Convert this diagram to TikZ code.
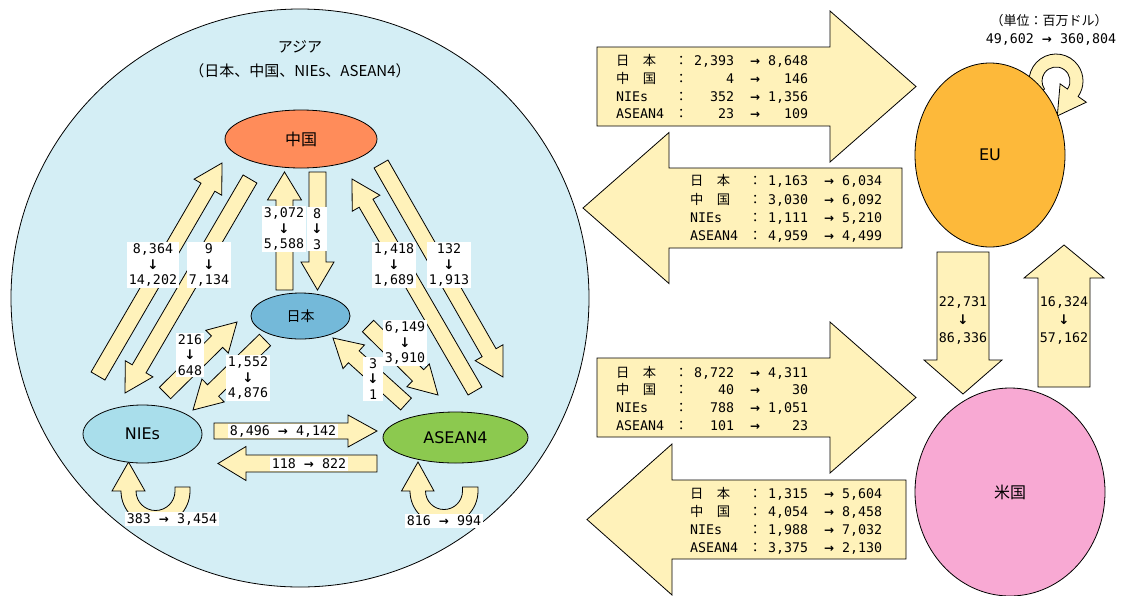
\documentclass[tikz,border=0pt]{standalone}
\usepackage{fontspec}
\usetikzlibrary{calc,shapes.geometric}
\newfontfamily\jpf{Noto Sans CJK JP}
\newfontfamily\monof{DejaVu Sans Mono}
\newfontfamily\sansf{DejaVu Sans}

\definecolor{asiabg}{HTML}{D4EEF5}
\definecolor{cnfill}{HTML}{FF8C5A}
\definecolor{jpfill}{HTML}{74B9D9}
\definecolor{niefill}{HTML}{A9DEEB}
\definecolor{aseanfill}{HTML}{8CC94F}
\definecolor{eufill}{HTML}{FDB93A}
\definecolor{usfill}{HTML}{F8A9D3}
\definecolor{arrfill}{HTML}{FFF2BA}

\tikzset{
  blockarrow/.style={draw=black, fill=arrfill, line width=0.8pt, line join=miter},
  region/.style={ellipse, draw=black, line width=0.8pt, inner sep=0pt},
  numlab/.style={fill=white, inner sep=1.5pt, minimum width=20pt, align=center,
    font=\monof\fontsize{13.3}{15.5}\selectfont},
  flowtext/.style={inner sep=0pt, align=center, font=\monof\fontsize{13.3}{18}\selectfont},
  rowtext/.style={inner sep=0pt, anchor=base west, font=\monof\fontsize{13.3}{18}\selectfont},
  jptext/.style={inner sep=0pt, font=\jpf\fontsize{15}{18}\selectfont},
}

% block arrow: [opts]{start}{tip}{shaft half width}{head half width}{head length}
\newcommand\barrow[6][]{%
  \coordinate (ba-b) at ($(#3)!#6!(#2)$);
  \draw[blockarrow,#1] ($(#2)!#4!90:(#3)$) -- ($(ba-b)!#4!-90:(#2)$) -- ($(ba-b)!#5!-90:(#2)$)
    -- (#3) -- ($(ba-b)!#5!90:(#2)$) -- ($(ba-b)!#4!90:(#2)$) -- ($(#2)!#4!-90:(#3)$) -- cycle;
}
\newcommand\ra{{\sansf\bfseries\fontsize{12}{12}\selectfont →}}
\newcommand\da{{\sansf\bfseries\fontsize{13.3}{15.5}\selectfont ↓}}
\newcommand\trow[3]{\makebox[59pt][l]{#1}\makebox[12pt][c]{{\jpf ：}}\makebox[47pt][r]{#2}\hspace{15pt}\makebox[12pt][c]{\ra}\makebox[47pt][r]{#3}}

\begin{document}
\begin{tikzpicture}[x=1pt,y=-1pt]
\useasboundingbox (0,0) rectangle (1121,595);
\fill[white] (0,0) rectangle (1121,595);

% Asia region
\node[circle, draw=black, line width=0.8pt, fill=asiabg, minimum size=578pt, inner sep=0pt] (asia) at (300,298) {};
\node[jptext] (t1) at (300,47) {アジア};
\node[jptext] (t2) at (300,71) {（日本、中国、NIEs、ASEAN4）};

% arrow end points
\coordinate (a1s) at (98,376);  \coordinate (a1t) at (222,163);
\coordinate (a2s) at (250,179); \coordinate (a2t) at (125,393);
\coordinate (a3s) at (475,391); \coordinate (a3t) at (352,179);
\coordinate (a4s) at (381,164); \coordinate (a4t) at (503,377);
\coordinate (v1s) at (284.5,290); \coordinate (v1t) at (284.5,172);
\coordinate (v2s) at (317.5,172); \coordinate (v2t) at (317.5,290);
\coordinate (s1s) at (165,393); \coordinate (s1t) at (237,322);
\coordinate (s2s) at (265,340); \coordinate (s2t) at (193,410);
\coordinate (s3s) at (368,326); \coordinate (s3t) at (438,395);
\coordinate (s4s) at (406,404); \coordinate (s4t) at (333,338);
\coordinate (h1s) at (214,431); \coordinate (h1t) at (377,431);
\coordinate (h2s) at (377,463.5); \coordinate (h2t) at (218,463.5);

\barrow{a1s}{a1t}{8pt}{16pt}{28pt}
\barrow{a2s}{a2t}{8pt}{16pt}{28pt}
\barrow{a3s}{a3t}{8pt}{16pt}{28pt}
\barrow{a4s}{a4t}{8pt}{16pt}{28pt}
\barrow{v1s}{v1t}{8.5pt}{17pt}{28pt}
\barrow{v2s}{v2t}{8.5pt}{16.5pt}{28pt}
\barrow{s1s}{s1t}{8pt}{16pt}{28pt}
\barrow{s2s}{s2t}{8pt}{16pt}{28pt}
\barrow{s3s}{s3t}{8pt}{16pt}{28pt}
\barrow{s4s}{s4t}{8pt}{16pt}{28pt}
\barrow{h1s}{h1t}{8pt}{16pt}{29pt}
\barrow{h2s}{h2t}{8.5pt}{17pt}{28pt}

% self loops
\draw[blockarrow] (175,487) -- (190,487) -- (190,491) arc[start angle=0, end angle=-180, radius=34.5pt]
  -- (112,491) -- (128.5,462) -- (145,491) -- (136,491) arc[start angle=180, end angle=360, radius=19.5pt] -- cycle;
\draw[blockarrow] (462.5,487) -- (478,487) -- (478,491) arc[start angle=0, end angle=-180, radius=34pt]
  -- (401.5,491) -- (418,462) -- (434,491) -- (425.5,491) arc[start angle=180, end angle=360, radius=18.5pt] -- cycle;
\coordinate (euc) at (1056,81);
\draw[blockarrow] ($(euc)+(215:27pt)$) arc[start angle=215, end angle=-35, radius=27pt]
  -- ($(euc)+(-35:37pt)$) -- ($(euc)+(1.3pt,-34.9pt)$) -- ($(euc)+(-35:5pt)$) -- ($(euc)+(-35:14pt)$)
  arc[start angle=-35, end angle=215, radius=14pt] -- cycle;

% big arrows Asia <-> EU / US
\coordinate (b1s) at (597,86.5);  \coordinate (b1t) at (916,86.5);
\coordinate (b2s) at (902,208);   \coordinate (b2t) at (583,208);
\coordinate (b3s) at (597,397.5); \coordinate (b3t) at (916,397.5);
\coordinate (b4s) at (906,519.5); \coordinate (b4t) at (587,519.5);
\barrow{b1s}{b1t}{39.5pt}{75.5pt}{86pt}
\barrow{b2s}{b2t}{40pt}{75.5pt}{86pt}
\barrow{b3s}{b3t}{39.5pt}{75.5pt}{86pt}
\barrow{b4s}{b4t}{39.5pt}{75.5pt}{85pt}

% EU <-> US arrows
\coordinate (d1s) at (963,252);  \coordinate (d1t) at (963,394);
\coordinate (u1s) at (1064,387); \coordinate (u1t) at (1064,245);
\barrow{d1s}{d1t}{26pt}{39pt}{34pt}
\barrow{u1s}{u1t}{26pt}{40pt}{33pt}

% regions
\node[region, fill=cnfill, minimum width=152pt, minimum height=58pt, font=\jpf\fontsize{16}{18}\selectfont] (cn) at (301,139) {中国};
\node[region, fill=jpfill, minimum width=99pt, minimum height=46pt, font=\jpf\fontsize{14}{18}\selectfont] (jp) at (300.5,316) {日本};
\node[region, fill=niefill, minimum width=119pt, minimum height=58pt, font=\sansf\fontsize{16}{18}\selectfont] (nie) at (142.5,434) {NIEs};
\node[region, fill=aseanfill, minimum width=145pt, minimum height=51pt, font=\sansf\fontsize{16}{18}\selectfont] (asean) at (455.5,437.5) {ASEAN4};
\node[region, fill=eufill, minimum width=150pt, minimum height=184pt, font=\sansf\fontsize{16}{18}\selectfont] (eu) at (990,155) {EU};
\node[region, fill=usfill, minimum width=190pt, minimum height=208pt, font=\jpf\fontsize{16}{18}\selectfont] (us) at (1010,492) {米国};

% interior labels
\node[numlab] (l8364) at (153,265) {8,364\\\da\\14,202};
\node[numlab] (l9) at (209,265) {9\\\da\\7,134};
\node[numlab] (l3072) at (284,229) {3,072\\\da\\5,588};
\node[numlab] (l8) at (317,229) {8\\\da\\3};
\node[numlab] (l1418) at (394,265) {1,418\\\da\\1,689};
\node[numlab] (l132) at (449,265) {132\\\da\\1,913};
\node[numlab] (l216) at (190,355) {216\\\da\\648};
\node[numlab] (l1552) at (248,378) {1,552\\\da\\4,876};
\node[numlab] (l6149) at (405,343) {6,149\\\da\\3,910};
\node[numlab] (l3) at (373,379) {3\\\da\\1};
\node[numlab] (l8496) at (283,431) {8,496 \ra{} 4,142};
\node[numlab] (l118) at (309,464) {118 \ra{} 822};
\node[numlab] (l383) at (172,519) {383 \ra{} 3,454};
\node[numlab] (l816) at (444,521) {816 \ra{} 994};

% tables in big arrows
\node[rowtext] (r1a) at (616,65)  {\trow{\jpf 日　本}{2,393}{8,648}};
\node[rowtext] (r1b) at (616,83)  {\trow{\jpf 中　国}{4}{146}};
\node[rowtext] (r1c) at (616,101) {\trow{NIEs}{352}{1,356}};
\node[rowtext] (r1d) at (616,118) {\trow{ASEAN4}{23}{109}};

\node[rowtext] (r2a) at (690,185) {\trow{\jpf 日　本}{1,163}{6,034}};
\node[rowtext] (r2b) at (690,204) {\trow{\jpf 中　国}{3,030}{6,092}};
\node[rowtext] (r2c) at (690,222) {\trow{NIEs}{1,111}{5,210}};
\node[rowtext] (r2d) at (690,240) {\trow{ASEAN4}{4,959}{4,499}};

\node[rowtext] (r3a) at (616,377) {\trow{\jpf 日　本}{8,722}{4,311}};
\node[rowtext] (r3b) at (616,394) {\trow{\jpf 中　国}{40}{30}};
\node[rowtext] (r3c) at (616,412) {\trow{NIEs}{788}{1,051}};
\node[rowtext] (r3d) at (616,430) {\trow{ASEAN4}{101}{23}};

\node[rowtext] (r4a) at (690,498) {\trow{\jpf 日　本}{1,315}{5,604}};
\node[rowtext] (r4b) at (690,516) {\trow{\jpf 中　国}{4,054}{8,458}};
\node[rowtext] (r4c) at (690,534) {\trow{NIEs}{1,988}{7,032}};
\node[rowtext] (r4d) at (690,552) {\trow{ASEAN4}{3,375}{2,130}};

% EU / US flows
\node[flowtext] (fd) at (963,320) {22,731\\\da\\86,336};
\node[flowtext] (fu) at (1064,320) {16,324\\\da\\57,162};

% unit and EU internal
\node[inner sep=0pt, font=\jpf\fontsize{13}{16}\selectfont] (unit) at (1049,21) {（単位：百万ドル）};
\node[inner sep=0pt, font=\monof\fontsize{13.3}{16}\selectfont] (euin) at (1051,39) {49,602 \ra{} 360,804};
\end{tikzpicture}
\end{document}
